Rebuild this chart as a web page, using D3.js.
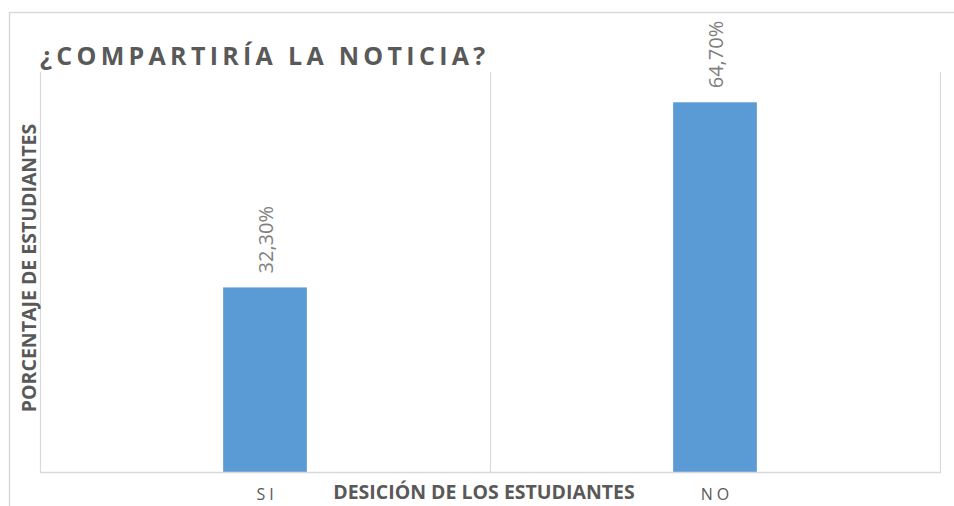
<!DOCTYPE html>
<html>
<head>
<meta charset="utf-8">
<script src="https://cdn.jsdelivr.net/npm/d3@7"></script>
<style>
  html, body { margin: 0; padding: 0; background: #fff; }
  svg { display: block; font-family: "Open Sans", sans-serif; }
</style>
</head>
<body>
<div id="chart"></div>
<script>
// chart data
const categories = ["SI", "NO"];
const values = [0.323, 0.647];
const valueLabels = ["32,30%", "64,70%"];

const width = 954, height = 506;
const margin = { top: 72, right: 14, bottom: 34, left: 40 };

const svg = d3.select("#chart")
    .append("svg")
    .attr("width", width)
    .attr("height", height);

svg.append("rect")
    .attr("width", width)
    .attr("height", height)
    .attr("fill", "white");

// outer chart frame (only top and left are visible in the crop)
svg.append("path")
    .attr("d", `M9.5,${height} V12.5 H${width}`)
    .attr("fill", "none")
    .attr("stroke", "#d9d9d9")
    .attr("stroke-width", 1.5);

const x = d3.scaleBand()
    .domain(categories)
    .range([margin.left, width - margin.right])
    .paddingInner(0)
    .paddingOuter(0);

const y = d3.scaleLinear()
    .domain([0, 0.7])
    .range([height - margin.bottom, margin.top]);

// vertical category gridlines
const gridX = [x.range()[0], ...categories.slice(1).map(c => x(c)), x.range()[1]];
svg.append("g")
    .selectAll("line")
    .data(gridX)
    .enter()
    .append("line")
    .attr("x1", d => d + 0.5)
    .attr("x2", d => d + 0.5)
    .attr("y1", y.range()[1])
    .attr("y2", y(0))
    .attr("stroke", "#d9d9d9")
    .attr("stroke-width", 1.2);

// bars
const barW = x.bandwidth() * 0.186;
svg.append("g")
    .selectAll("rect")
    .data(values)
    .enter()
    .append("rect")
    .attr("x", (d, i) => x(categories[i]) + x.bandwidth() / 2 - barW / 2)
    .attr("y", d => y(d))
    .attr("width", barW)
    .attr("height", d => y(0) - y(d))
    .attr("fill", "#5b9bd5");

// baseline
svg.append("line")
    .attr("x1", x.range()[0])
    .attr("x2", x.range()[1] + 1)
    .attr("y1", y(0) + 0.5)
    .attr("y2", y(0) + 0.5)
    .attr("stroke", "#d9d9d9")
    .attr("stroke-width", 1.5);

// rotated value labels
svg.append("g")
    .selectAll("text")
    .data(values)
    .enter()
    .append("text")
    .attr("transform", (d, i) => `translate(${x(categories[i]) + x.bandwidth() / 2 + 8},${y(d) - 14}) rotate(-90)`)
    .attr("font-size", "20px")
    .attr("fill", "#7f7f7f")
    .text((d, i) => valueLabels[i]);

// category labels
svg.append("g")
    .selectAll("text")
    .data(categories)
    .enter()
    .append("text")
    .attr("x", d => x(d) + x.bandwidth() / 2 + 2)
    .attr("y", 500)
    .attr("text-anchor", "middle")
    .attr("font-size", "16px")
    .attr("letter-spacing", "4px")
    .attr("fill", "#595959")
    .text(d => d);

// title
svg.append("text")
    .attr("x", 40)
    .attr("y", 65)
    .attr("font-size", "25px")
    .attr("font-weight", "bold")
    .attr("letter-spacing", "4.3px")
    .attr("fill", "#595959")
    .text("¿COMPARTIRÍA LA NOTICIA?");

// axis titles
svg.append("text")
    .attr("x", 484)
    .attr("y", 499)
    .attr("text-anchor", "middle")
    .attr("font-size", "19.5px")
    .attr("font-weight", "bold")
    .attr("fill", "#595959")
    .text("DESICIÓN DE LOS ESTUDIANTES");

svg.append("text")
    .attr("transform", "translate(36,268) rotate(-90)")
    .attr("text-anchor", "middle")
    .attr("font-size", "19.5px")
    .attr("font-weight", "bold")
    .attr("fill", "#595959")
    .text("PORCENTAJE DE ESTUDIANTES");
</script>
</body>
</html>
